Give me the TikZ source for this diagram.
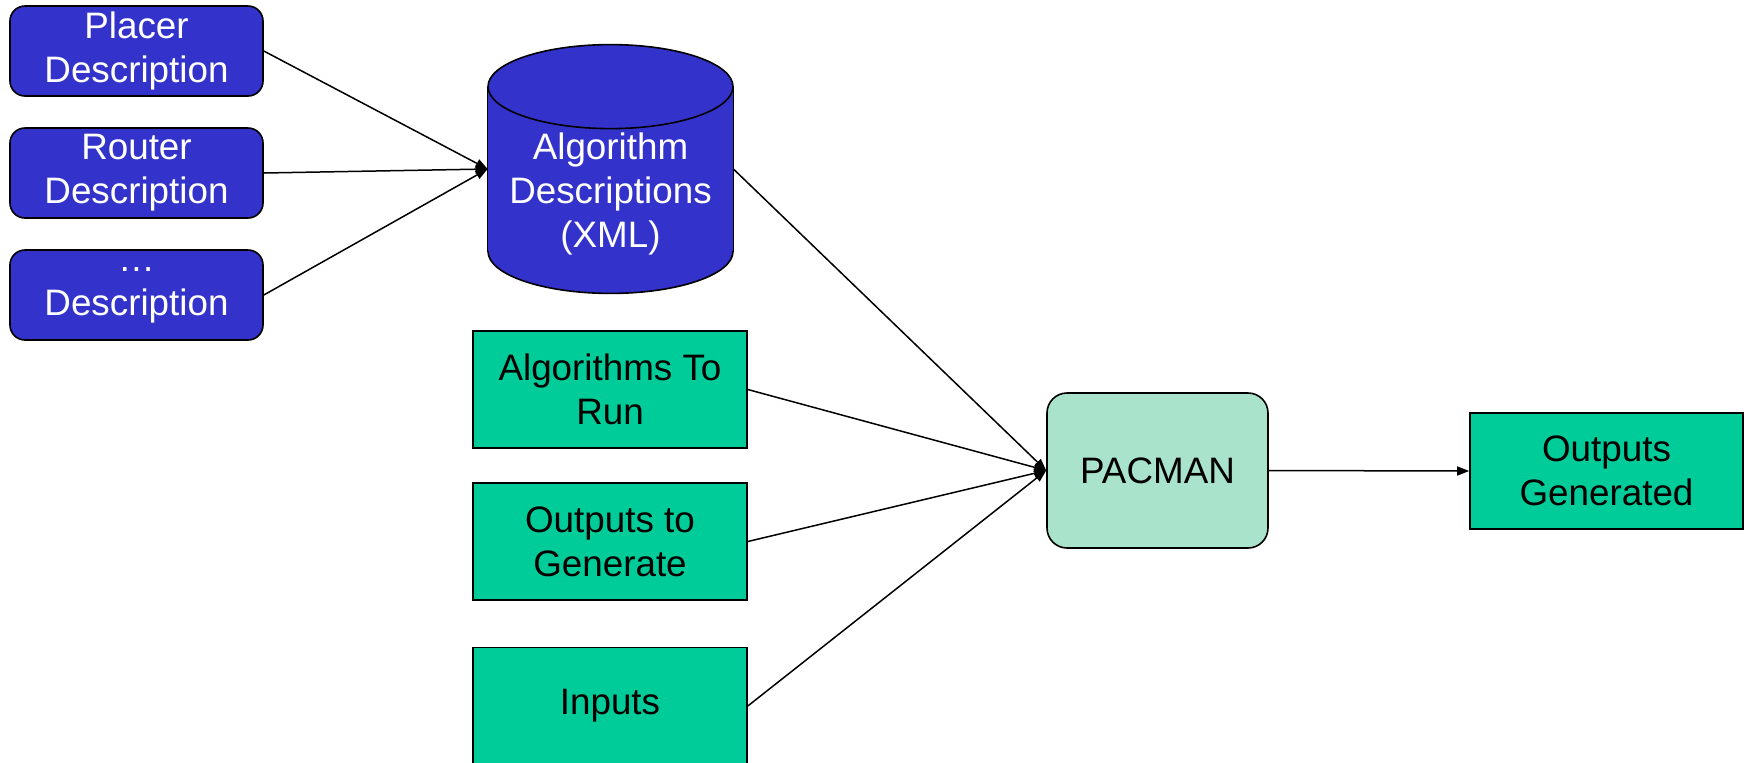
\documentclass[tikz,border=0pt]{standalone}
\usepackage{fontspec}
\setmainfont{Liberation Sans}
\usetikzlibrary{calc,arrows.meta}

\definecolor{descblue}{RGB}{51,51,204}
\definecolor{boxgreen}{RGB}{0,204,153}
\definecolor{palegreen}{RGB}{170,227,203}

\tikzset{
  boxfont/.style={font=\fontsize{18.4}{22}\selectfont, align=center},
  descbox/.style={boxfont, draw, line width=0.8pt, fill=descblue, text=white,
    rounded corners=7.5pt, minimum width=126.5pt, minimum height=45pt, inner sep=0pt},
  greenbox/.style={boxfont, draw, line width=0.8pt, fill=boxgreen,
    minimum width=137pt, minimum height=58.5pt, inner sep=0pt},
  cylline/.style={line width=0.8pt},
  flow/.style={line width=0.75pt, -{Triangle[length=6pt,width=4.5pt]}},
}

\begin{document}
\begin{tikzpicture}[x=0.5pt,y=0.5pt,yscale=-1,xscale=1]
\useasboundingbox (0,0) rectangle (1750,762);

% Description inputs
\node[descbox] (placer) at (136.5,51) {Placer\\Description};
\node[descbox] (router) at (136.5,173) {Router\\Description};
\node[descbox] (otherdesc) at (136.5,295) {\dots\\Description};

% Database (outline drawn round an empty node)
\node[minimum width=122.5pt, minimum height=124pt, inner sep=0pt] (algxml) at (610.5,169) {};
\coordinate (cyltop) at ($(algxml.north)+(0,42)$);
\coordinate (cylbot) at ($(algxml.south)+(0,-42)$);
\draw[cylline, fill=descblue] (cylbot) ellipse [x radius=61.25pt, y radius=21pt];
\fill[descblue] ($(algxml.north west)+(0,42)$) rectangle ($(algxml.south east)+(0,-42)$);
\draw[cylline] ($(algxml.north west)+(0,42)$) -- ($(algxml.south west)+(0,-42)$)
  ($(algxml.north east)+(0,42)$) -- ($(algxml.south east)+(0,-42)$);
\draw[cylline, fill=descblue] (cyltop) ellipse [x radius=61.25pt, y radius=21pt];
\node[boxfont, text=white] (algtext) at (610.5,194) {Algorithm\\Descriptions\\(XML)};

% Run inputs
\node[greenbox] (torun) at (610,389.5) {Algorithms To\\Run};
\node[greenbox] (togen) at (610,541.5) {Outputs to\\Generate};
\node[greenbox] (inputs) at (610,706) {Inputs};

% Tool
\node[boxfont, draw, line width=0.8pt, fill=palegreen, rounded corners=10pt,
  minimum width=110.5pt, minimum height=77.5pt, inner sep=0pt] (pacman) at (1157.5,470.5) {PACMAN};

% Result
\node[greenbox, minimum width=136.5pt, minimum height=58pt] (generated) at (1606.5,471) {Outputs\\Generated};

% Connectors
\draw[flow] (placer.east) -- (algxml.west);
\draw[flow] (router.east) -- (algxml.west);
\draw[flow] (otherdesc.east) -- (algxml.west);
\draw[flow] (algxml.east) -- (pacman.west);
\draw[flow] (torun.east) -- (pacman.west);
\draw[flow] (togen.east) -- (pacman.west);
\draw[flow] (inputs.east) -- (pacman.west);
\draw[flow] (pacman.east) -- (generated.west);

\end{tikzpicture}
\end{document}
